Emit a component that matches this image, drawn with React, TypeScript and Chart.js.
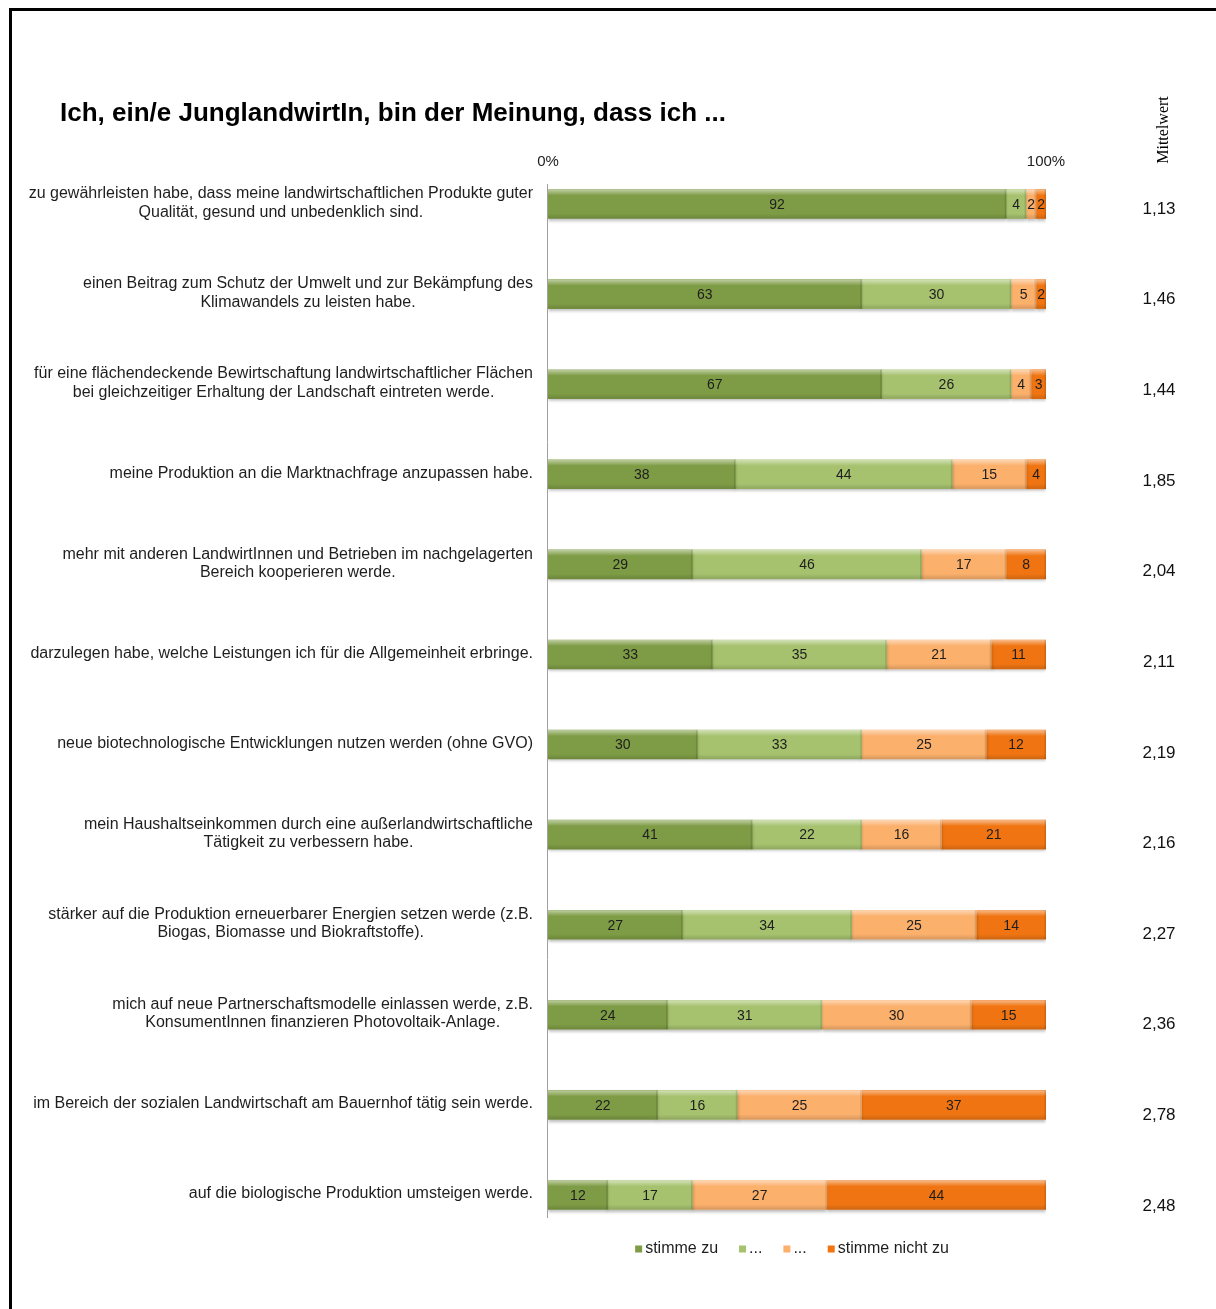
import React, { useEffect, useRef } from 'react';
import { Chart, registerables } from 'chart.js';

Chart.register(...registerables);

const TITLE = 'Ich, ein/e JunglandwirtIn, bin der Meinung, dass ich ...';
const MEAN_TITLE = 'Mittelwert';

const categories: (string | string[])[] = [
  ['zu gewährleisten habe, dass meine landwirtschaftlichen Produkte guter', 'Qualität, gesund und unbedenklich sind.'],
  ['einen Beitrag zum Schutz der Umwelt und zur Bekämpfung des', 'Klimawandels zu leisten habe.'],
  ['für eine flächendeckende Bewirtschaftung landwirtschaftlicher Flächen', 'bei gleichzeitiger Erhaltung der Landschaft eintreten werde.'],
  'meine Produktion an die Marktnachfrage anzupassen habe.',
  ['mehr mit anderen LandwirtInnen und Betrieben im nachgelagerten', 'Bereich kooperieren werde.'],
  'darzulegen habe, welche Leistungen ich für die Allgemeinheit erbringe.',
  'neue biotechnologische Entwicklungen nutzen werden (ohne GVO)',
  ['mein Haushaltseinkommen durch eine außerlandwirtschaftliche', 'Tätigkeit zu verbessern habe.'],
  ['stärker auf die Produktion erneuerbarer Energien setzen werde (z.B.', 'Biogas, Biomasse und Biokraftstoffe).'],
  ['mich auf neue Partnerschaftsmodelle einlassen werde, z.B.', 'KonsumentInnen finanzieren Photovoltaik-Anlage.'],
  'im Bereich der sozialen Landwirtschaft am Bauernhof tätig sein werde.',
  'auf die biologische Produktion umsteigen werde.',
];

const stimmeZu = [92, 63, 67, 38, 29, 33, 30, 41, 27, 24, 22, 12];
const eherZu = [4, 30, 26, 44, 46, 35, 33, 22, 34, 31, 16, 17];
const eherNicht = [2, 5, 4, 15, 17, 21, 25, 16, 25, 30, 25, 27];
const stimmeNichtZu = [2, 2, 3, 4, 8, 11, 12, 21, 14, 15, 37, 44];

const mittelwert = ['1,13', '1,46', '1,44', '1,85', '2,04', '2,11', '2,19', '2,16', '2,27', '2,36', '2,78', '2,48'];

const seriesNames = ['stimme zu', '...', '...', 'stimme nicht zu'];
const seriesColors = ['#7E9C45', '#A6C26E', '#FBB06C', '#F07512'];
const xTicks = [0, 100];

const FONT = '"Liberation Sans", Arial, sans-serif';

const decoPlugin = {
  id: 'deco',
  beforeDraw(chart: any) {
    const { ctx, width, height, chartArea: area } = chart;
    ctx.save();
    ctx.fillStyle = '#ffffff';
    ctx.fillRect(0, 0, width, height);
    // frame
    ctx.fillStyle = '#000000';
    ctx.fillRect(9, 8, width - 9, 3);
    ctx.fillRect(9, 8, 3, height - 8);

    // title
    ctx.fillStyle = '#000000';
    ctx.font = `bold 26px ${FONT}`;
    ctx.textAlign = 'left';
    ctx.textBaseline = 'middle';
    ctx.fillText(TITLE, 60, 114, 677);

    // Mittelwert rotated
    ctx.save();
    ctx.translate(1164, 130);
    ctx.rotate(-Math.PI / 2);
    ctx.font = `16px "Liberation Serif", "Times New Roman", serif`;
    ctx.textAlign = 'center';
    ctx.textBaseline = 'middle';
    ctx.fillStyle = '#000000';
    ctx.fillText(MEAN_TITLE, 0, 0);
    ctx.restore();

    // x tick labels
    const xs = chart.scales.x;
    ctx.font = `15px ${FONT}`;
    ctx.fillStyle = '#222222';
    ctx.textAlign = 'center';
    ctx.textBaseline = 'middle';
    xTicks.forEach((v) => {
      ctx.fillText(v + '%', xs.getPixelForValue(v), area.top + 3);
    });

    // category axis line
    ctx.strokeStyle = '#a0a0a0';
    ctx.lineWidth = 1;
    ctx.beginPath();
    ctx.moveTo(area.left - 0.5, area.top + 25);
    ctx.lineTo(area.left - 0.5, area.bottom - 22);
    ctx.stroke();

    // category labels
    const ys = chart.scales.y;
    ctx.font = `16px ${FONT}`;
    ctx.fillStyle = '#1e1e1e';
    ctx.textAlign = 'center';
    const labels = chart.data.labels as (string | string[])[];
    labels.forEach((lab, i) => {
      const lines = Array.isArray(lab) ? lab : [lab];
      const maxW = Math.min(508, Math.max(...lines.map((l) => ctx.measureText(l).width)));
      const cx = area.left - 15 - maxW / 2;
      const cy = ys.getPixelForValue(i) - 1;
      const lh = 18.5;
      lines.forEach((l, k) => {
        ctx.fillText(l, cx, cy + (k - (lines.length - 1) / 2) * lh, 508);
      });
    });

    // mean values
    ctx.font = `17px ${FONT}`;
    ctx.fillStyle = '#111111';
    ctx.textAlign = 'center';
    mittelwert.forEach((m, i) => {
      ctx.fillText(m, 1159, ys.getPixelForValue(i) + 5 + i * 0.55);
    });

    // legend
    ctx.font = `16px ${FONT}`;
    ctx.textAlign = 'left';
    ctx.textBaseline = 'middle';
    const box = 7;
    const gapBoxText = 3;
    const gapItems = 21;
    const widths = seriesNames.map((n) => box + gapBoxText + ctx.measureText(n).width);
    const total = widths.reduce((a, b) => a + b, 0) + gapItems * (seriesNames.length - 1);
    let lx = 792 - total / 2;
    const ly = area.bottom + 9;
    seriesNames.forEach((n, k) => {
      ctx.fillStyle = seriesColors[k];
      ctx.fillRect(lx, ly - box / 2, box, box);
      ctx.fillStyle = '#1e1e1e';
      ctx.fillText(n, lx + box + gapBoxText, ly);
      lx += widths[k] + gapItems;
    });
    ctx.restore();
  },
  beforeDatasetsDraw(chart: any) {
    const ctx = chart.ctx;
    ctx.save();
    ctx.shadowColor = 'rgba(0,0,0,0.28)';
    ctx.shadowBlur = 3;
    ctx.shadowOffsetX = 0;
    ctx.shadowOffsetY = 2;
  },
  afterDatasetsDraw(chart: any) {
    const ctx = chart.ctx;
    ctx.restore();
    ctx.save();
    const raw = [stimmeZu, eherZu, eherNicht, stimmeNichtZu];
    chart.data.datasets.forEach((ds: any, k: number) => {
      const meta = chart.getDatasetMeta(k);
      meta.data.forEach((el: any, i: number) => {
        const left = Math.min(el.base, el.x);
        const right = Math.max(el.base, el.x);
        const h = el.height;
        const top = el.y - h / 2;
        const w = right - left;
        // bevel highlight
        const g1 = ctx.createLinearGradient(0, top, 0, top + 6);
        g1.addColorStop(0, 'rgba(255,255,255,0.5)');
        g1.addColorStop(1, 'rgba(255,255,255,0)');
        ctx.fillStyle = g1;
        ctx.fillRect(left, top, w, 6);
        const g2 = ctx.createLinearGradient(0, top + h - 5, 0, top + h);
        g2.addColorStop(0, 'rgba(0,0,0,0)');
        g2.addColorStop(1, 'rgba(0,0,0,0.14)');
        ctx.fillStyle = g2;
        ctx.fillRect(left, top + h - 5, w, 5);
        ctx.fillStyle = 'rgba(0,0,0,0.12)';
        ctx.fillRect(right - 1.5, top, 1.5, h);
        // value label
        ctx.font = `14px ${FONT}`;
        ctx.fillStyle = '#1e1e1e';
        ctx.textAlign = 'center';
        ctx.textBaseline = 'middle';
        ctx.fillText(String(raw[k][i]), (left + right) / 2, el.y + 1);
      });
    });
    ctx.restore();
  },
};

export default function App() {
  const ref = useRef<HTMLCanvasElement | null>(null);

  useEffect(() => {
    document.body.style.margin = '0';
    const canvas = ref.current;
    if (!canvas) return;
    const series = [stimmeZu, eherZu, eherNicht, stimmeNichtZu];
    const rowSum = (i: number) => series.reduce((a, s) => a + s[i], 0);
    const chart = new Chart(canvas, {
      type: 'bar',
      data: {
        labels: categories as any,
        datasets: series.map((s, k) => ({
          label: seriesNames[k],
          data: s.map((v, i) => (v / rowSum(i)) * 100),
          backgroundColor: seriesColors[k],
          borderWidth: 0,
          barThickness: 29,
        })),
      },
      options: {
        indexAxis: 'y',
        animation: false,
        responsive: false,
        devicePixelRatio: 1,
        layout: { padding: { left: 548, right: 170, top: 159, bottom: 69 } },
        scales: {
          x: { stacked: true, min: 0, max: 100, display: false },
          y: { stacked: true, display: false },
        },
        plugins: {
          legend: { display: false },
          title: { display: false },
          tooltip: { enabled: false },
        },
      },
      plugins: [decoPlugin],
    });
    return () => chart.destroy();
  }, []);

  return (
    <div style={{ width: 1216, height: 1309, overflow: 'hidden' }}>
      <canvas ref={ref} width={1216} height={1309} style={{ display: 'block', width: 1216, height: 1309 }} />
    </div>
  );
}
